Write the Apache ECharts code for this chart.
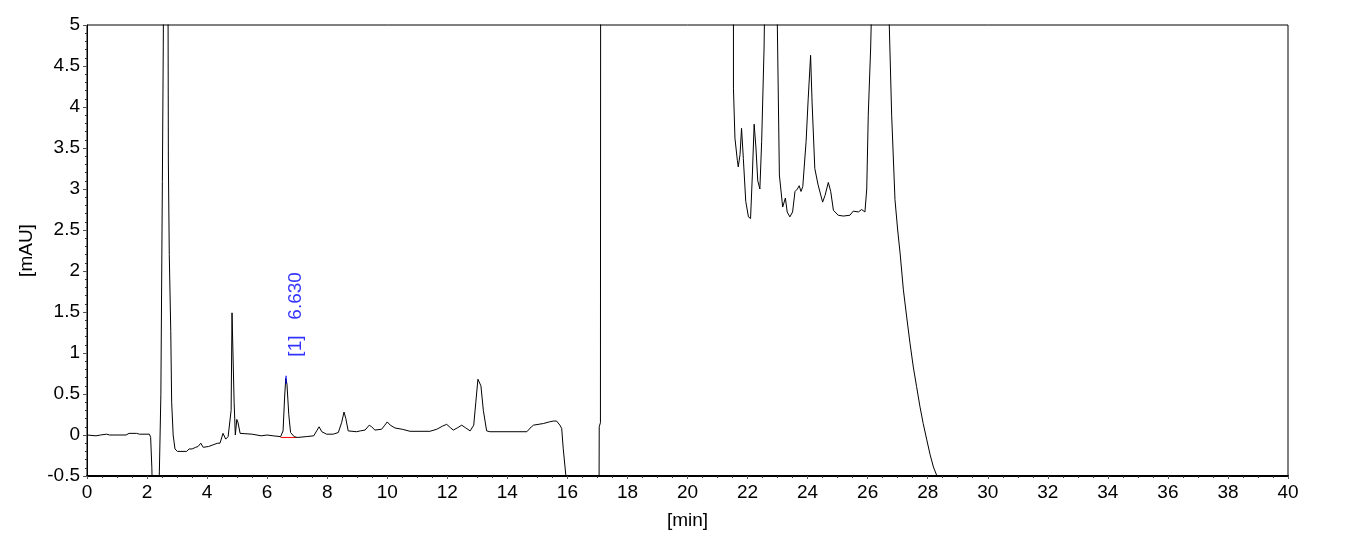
<!DOCTYPE html>
<html>
<head>
<meta charset="utf-8">
<script src="https://cdn.jsdelivr.net/npm/echarts@6/dist/echarts.min.js"></script>
<style>
html,body{margin:0;padding:0;background:#fff;}
#chart{width:1362px;height:544px;}
</style>
</head>
<body>
<div id="chart"></div>
<script>
// ---- data (time [min], absorbance [mAU]) ----
const xTicks = [0, 40, 2];          // min, max, step
const yTicks = [-0.5, 5, 0.5];      // min, max, step
const trace = [
  [0.00, 0.00], [0.30, -0.01], [0.45, 0.00], [0.65, 0.01], [0.75, 0.00], [1.30, 0.00],
  [1.40, 0.02], [1.65, 0.02], [1.75, 0.01], [2.08, 0.01], [2.12, -0.03], [2.16, -0.40],
  [2.19, -0.90], [2.30, -1.20], [2.38, -0.80], [2.41, -0.45], [2.46, 0.49], [2.51, 3.09],
  [2.54, 4.72], [2.57, 7.00], [2.63, 9.00], [2.69, 7.00], [2.71, 3.33], [2.74, 2.20],
  [2.79, 1.26], [2.82, 0.40], [2.87, 0.00], [2.93, -0.17], [3.01, -0.20], [3.32, -0.20],
  [3.40, -0.17], [3.50, -0.17], [3.62, -0.15], [3.70, -0.14], [3.79, -0.10], [3.87, -0.15],
  [3.93, -0.17], [4.05, -0.14], [4.20, -0.12], [4.35, -0.10], [4.43, -0.10], [4.53, 0.02],
  [4.62, -0.05], [4.70, -0.02], [4.76, 0.00], [4.80, 0.30], [4.83, 1.49], [4.87, 1.49],
  [4.90, 0.40], [4.94, 0.00], [4.99, 0.19], [5.03, 0.15], [5.10, 0.02], [5.16, 0.00],
  [5.50, 0.01], [5.80, -0.01], [6.00, 0.00], [6.20, -0.01], [6.45, -0.02], [6.53, 0.05],
  [6.58, 0.45], [6.62, 0.69], [6.66, 0.62], [6.72, 0.25], [6.78, 0.03], [6.90, -0.02],
  [7.00, -0.03], [7.30, -0.02], [7.55, -0.01], [7.65, 0.05], [7.73, 0.10], [7.82, 0.04],
  [7.98, 0.01], [8.20, 0.01], [8.37, 0.03], [8.48, 0.15], [8.56, 0.28], [8.62, 0.20],
  [8.70, 0.05], [8.98, 0.04], [9.10, 0.05], [9.26, 0.06], [9.40, 0.12], [9.48, 0.10],
  [9.59, 0.06], [9.81, 0.07], [9.92, 0.12], [10.00, 0.16], [10.10, 0.12], [10.26, 0.085],
  [10.50, 0.07], [10.76, 0.045], [11.42, 0.045], [11.65, 0.07], [11.85, 0.11], [11.98, 0.13],
  [12.10, 0.09], [12.20, 0.06], [12.35, 0.09], [12.48, 0.12], [12.60, 0.09], [12.76, 0.05],
  [12.88, 0.12], [12.95, 0.40], [13.02, 0.68], [13.07, 0.70], [13.12, 0.60], [13.20, 0.30],
  [13.31, 0.05], [13.42, 0.04], [14.65, 0.04], [14.80, 0.10], [14.87, 0.12], [15.20, 0.14],
  [15.40, 0.16], [15.53, 0.17], [15.64, 0.17], [15.75, 0.12], [15.81, 0.08], [15.86, -0.16],
  [15.95, -0.50], [16.00, -1.00], [16.50, -1.50], [17.00, -1.50], [17.05, -1.20], [17.06, 0.10],
  [17.10, 0.15], [17.11, 8.00], [17.50, 10.0], [19.00, 12.0], [21.00, 10.0], [21.45, 6.00],
  [21.53, 5.05], [21.53, 4.23], [21.58, 3.62], [21.66, 3.35], [21.69, 3.27], [21.75, 3.42],
  [21.80, 3.74], [21.86, 3.37], [21.94, 2.85], [22.03, 2.66], [22.10, 2.64], [22.16, 3.17],
  [22.22, 3.79], [22.28, 3.50], [22.34, 3.10], [22.41, 3.00], [22.47, 3.58], [22.55, 4.72],
  [22.60, 6.00], [22.80, 8.00], [22.96, 6.00], [22.99, 5.05], [23.06, 3.17], [23.17, 2.78],
  [23.26, 2.89], [23.32, 2.72], [23.41, 2.66], [23.50, 2.72], [23.58, 2.97], [23.66, 3.00],
  [23.72, 3.04], [23.78, 2.97], [23.84, 3.03], [23.95, 3.58], [24.02, 4.10], [24.10, 4.63],
  [24.15, 4.05], [24.24, 3.25], [24.35, 3.05], [24.50, 2.84], [24.58, 2.92], [24.69, 3.08],
  [24.77, 2.97], [24.86, 2.74], [25.02, 2.68], [25.19, 2.67], [25.41, 2.68], [25.52, 2.73],
  [25.69, 2.72], [25.80, 2.75], [25.91, 2.72], [25.97, 3.00], [26.02, 3.90], [26.10, 4.72],
  [26.15, 5.50], [26.40, 9.00], [26.65, 6.00], [26.72, 5.00], [26.80, 3.90], [26.91, 2.87],
  [27.00, 2.50], [27.08, 2.22], [27.19, 1.77], [27.30, 1.44], [27.41, 1.12], [27.52, 0.83],
  [27.63, 0.59], [27.74, 0.35], [27.85, 0.14], [27.97, -0.06], [28.08, -0.24], [28.19, -0.39],
  [28.32, -0.51], [28.50, -0.75], [29.00, -1.20], [30.00, -1.60], [34.00, -1.80], [40.00, -1.80]
];
const peakLabels = [{ name: '[1]   6.630', time: 6.63, apex: 0.675 }];
const peakBaseline = [[6.45, -0.03], [6.98, -0.03]];

const FONT = '"Liberation Sans", Arial, sans-serif';
const chart = echarts.init(document.getElementById('chart'), null, { renderer: 'canvas' });
chart.setOption({
  animation: false,
  backgroundColor: '#ffffff',
  grid: { left: 87, right: 74, top: 25, bottom: 68, show: true, borderColor: '#000', borderWidth: 1, backgroundColor: '#fff' },
  xAxis: {
    type: 'value', min: xTicks[0], max: xTicks[1], interval: xTicks[2],
    name: '[min]', nameLocation: 'middle', nameGap: 35,
    nameTextStyle: { fontFamily: FONT, fontSize: 19, color: '#000' },
    axisLine: { onZero: false, lineStyle: { color: '#000', width: 2 } },
    axisTick: { show: true, length: 3, lineStyle: { color: '#555' } },
    minorTick: { show: true, splitNumber: 4, length: 2, lineStyle: { color: '#333' } },
    splitLine: { show: false },
    axisLabel: { fontFamily: FONT, fontSize: 19, color: '#000', margin: 7 }
  },
  yAxis: {
    type: 'value', min: yTicks[0], max: yTicks[1], interval: yTicks[2],
    name: '[mAU]', nameLocation: 'middle', nameGap: 49, nameRotate: 90,
    nameTextStyle: { fontFamily: FONT, fontSize: 19, color: '#000' },
    axisLine: { onZero: false, lineStyle: { color: '#000', width: 1 } },
    axisTick: { show: true, length: 4, lineStyle: { color: '#555' } },
    minorTick: { show: true, splitNumber: 5, length: 2, lineStyle: { color: '#333' } },
    splitLine: { show: false },
    axisLabel: { fontFamily: FONT, fontSize: 19, color: '#000', margin: 7 }
  },
  series: [
    {
      type: 'line', data: peakBaseline, symbol: 'none', silent: true,
      lineStyle: { color: '#ff0000', width: 1 }, z: 2
    },
    {
      type: 'line', data: trace, symbol: 'none', clip: true, silent: true,
      lineStyle: { color: '#000', width: 1 }, z: 3
    },
    {
      type: 'scatter', silent: true, z: 4,
      data: peakLabels.map(p => ({ value: [p.time, p.apex], name: p.name })),
      symbol: 'rect', symbolSize: [1.5, 8],
      itemStyle: { color: '#0000ff' },
      label: {
        show: true, formatter: p => p.name, rotate: 90, position: 'inside',
        align: 'left', verticalAlign: 'middle', offset: [23, 10],
        fontFamily: FONT, fontSize: 19, color: '#0000ff'
      }
    }
  ]
});
</script>
</body>
</html>
